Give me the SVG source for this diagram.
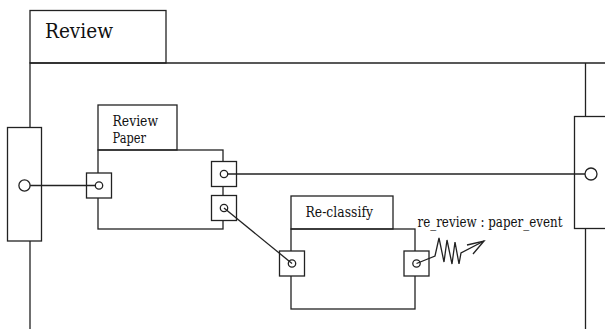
<svg xmlns="http://www.w3.org/2000/svg" width="605" height="329" viewBox="0 0 605 329">
<style>
.s{fill:none;stroke:#222;stroke-width:1.3}
.w{fill:#fff;stroke:#222;stroke-width:1.3}
text{fill:#111;font-family:'DejaVu Serif','Liberation Serif',serif}
</style>
<g id="review-frame">
<rect class="s" x="30" y="10.5" width="136" height="52.5"/>
<polyline class="s" points="30,329 30,63 606,63"/>
<line class="s" x1="585.5" y1="63" x2="585.5" y2="329"/>
<text x="45" y="38" font-size="20" textLength="68" lengthAdjust="spacingAndGlyphs">Review</text>
</g>
<g id="left-boundary">
<rect class="w" x="7.5" y="127.5" width="34" height="113.5"/>
<circle class="w" cx="24.5" cy="185.5" r="5.6"/>
</g>
<g id="right-boundary">
<rect class="w" x="574.5" y="116.5" width="32" height="112"/>
<circle class="w" cx="591" cy="174" r="6"/>
</g>
<g id="review-paper">
<rect class="s" x="98" y="105" width="79" height="45"/>
<rect class="s" x="98" y="150" width="125" height="79"/>
<text x="112.5" y="126" font-size="14" textLength="45.5" lengthAdjust="spacingAndGlyphs">Review</text>
<text x="112.5" y="143" font-size="14" textLength="33.5" lengthAdjust="spacingAndGlyphs">Paper</text>
<rect class="w" x="86.5" y="173" width="25" height="25"/>
<circle class="s" cx="99" cy="185.5" r="3.7"/>
<rect class="w" x="211.5" y="161.5" width="25" height="25"/>
<circle class="s" cx="224" cy="174" r="3.7"/>
<rect class="w" x="211.5" y="195.5" width="25" height="25"/>
<circle class="s" cx="224" cy="208" r="3.7"/>
</g>
<g id="re-classify">
<rect class="s" x="291" y="196" width="102" height="33"/>
<rect class="s" x="291" y="229" width="124" height="80"/>
<text x="305.5" y="217" font-size="14" textLength="67.5" lengthAdjust="spacingAndGlyphs">Re-classify</text>
<rect class="w" x="404" y="251" width="25" height="25"/>
<circle class="s" cx="416.5" cy="263.5" r="3.7"/>
<rect class="w" x="279.5" y="251" width="25" height="25"/>
<circle class="s" cx="292" cy="263.5" r="3.7"/>
</g>
<g id="connectors">
<line class="s" x1="30.1" y1="185.5" x2="95.3" y2="185.5"/>
<line class="s" x1="227.7" y1="174" x2="585" y2="174"/>
<line class="s" x1="224" y1="208" x2="292" y2="263.5"/>
<polyline class="s" points="416.5,263.5 435,256 439,238 444,262 447,240 452,264 455,242 459,264 461,253 484,241"/>
<polyline class="s" points="467,245 484,241 473,254"/>
<text x="417.5" y="227" font-size="14" textLength="145" lengthAdjust="spacingAndGlyphs">re_review : paper_event</text>
</g>
</svg>
